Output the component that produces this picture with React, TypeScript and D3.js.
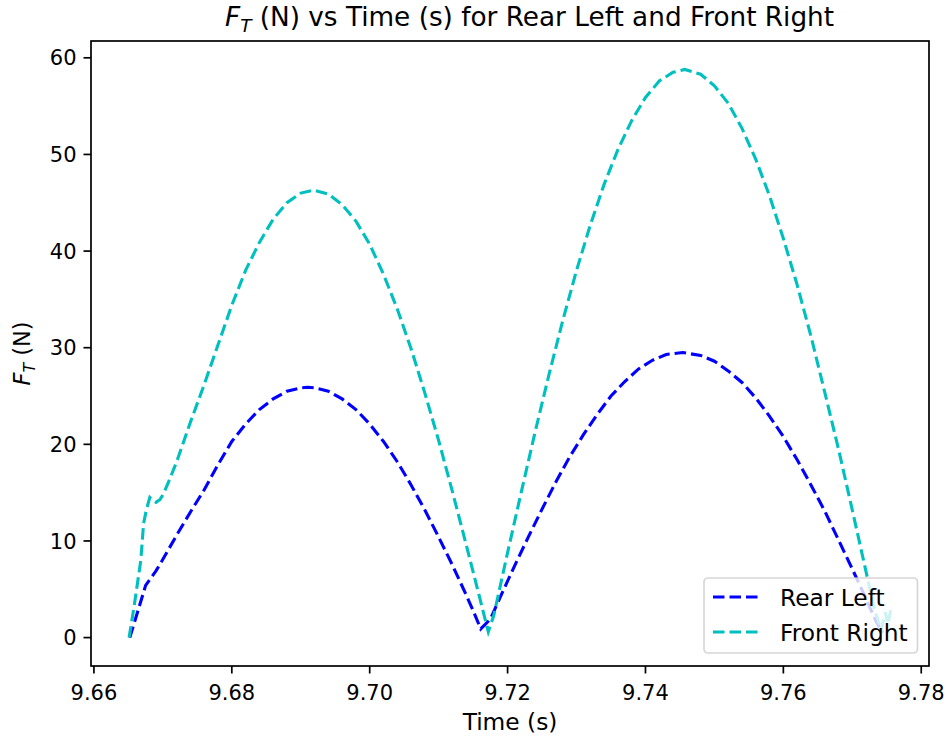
import React from "react";
import * as d3 from "d3";

const tRL = [9.6652, 9.6664, 9.6675, 9.669, 9.67, 9.672, 9.674, 9.676, 9.678, 9.68, 9.682, 9.684, 9.686, 9.688, 9.69, 9.691, 9.692, 9.694, 9.696, 9.698, 9.7, 9.702, 9.704, 9.706, 9.708, 9.71, 9.712, 9.714, 9.715, 9.7161, 9.7175, 9.719, 9.721, 9.723, 9.725, 9.727, 9.729, 9.731, 9.733, 9.735, 9.737, 9.739, 9.741, 9.743, 9.7454, 9.748, 9.75, 9.752, 9.754, 9.756, 9.758, 9.76, 9.762, 9.764, 9.766, 9.768, 9.77, 9.772, 9.7735, 9.7744];
const fRL = [0, 2.8, 5.4, 6.9, 8.1, 10.6, 13.0, 15.3, 17.9, 20.3, 22.1, 23.6, 24.7, 25.5, 25.85, 25.9, 25.85, 25.5, 24.7, 23.6, 22.1, 20.3, 18.2, 15.8, 13.2, 10.4, 7.5, 4.4, 2.8, 0.9, 1.9, 4.3, 7.4, 10.4, 13.3, 16.1, 18.7, 21.0, 23.1, 25.0, 26.5, 27.8, 28.7, 29.3, 29.5, 29.2, 28.6, 27.6, 26.4, 24.8, 22.9, 20.8, 18.4, 15.8, 13.1, 10.1, 7.1, 4.0, 1.6, 0.5];

const tFR = [9.6651, 9.6658, 9.6668, 9.6672, 9.6676, 9.6681, 9.6685, 9.669, 9.6696, 9.6701, 9.671, 9.6721, 9.674, 9.676, 9.678, 9.68, 9.682, 9.684, 9.686, 9.688, 9.69, 9.6919, 9.694, 9.696, 9.698, 9.7, 9.702, 9.704, 9.706, 9.708, 9.71, 9.712, 9.714, 9.716, 9.7172, 9.718, 9.72, 9.722, 9.724, 9.726, 9.728, 9.73, 9.732, 9.734, 9.736, 9.738, 9.74, 9.742, 9.744, 9.7457, 9.748, 9.75, 9.752, 9.754, 9.756, 9.758, 9.76, 9.762, 9.764, 9.766, 9.768, 9.77, 9.772, 9.7732, 9.7742, 9.7748, 9.7752, 9.7756];
const fFR = [0, 3.1, 8.0, 11.8, 13.2, 14.5, 14.2, 14.0, 14.3, 14.9, 16.4, 18.4, 22.3, 26.2, 30.3, 34.4, 38.0, 40.9, 43.3, 45.0, 46.0, 46.3, 45.9, 44.8, 43.1, 40.7, 37.6, 34.0, 29.9, 25.3, 20.4, 15.1, 9.6, 4.0, 0.6, 2.3, 8.8, 15.1, 21.3, 27.2, 32.8, 38.0, 42.7, 46.9, 50.5, 53.5, 55.9, 57.6, 58.5, 58.8, 58.3, 57.1, 55.3, 52.7, 49.5, 45.7, 41.3, 36.5, 31.2, 25.4, 19.5, 13.2, 6.8, 2.9, 0.8, 2.6, 1.4, 3.0];

const xTicks = [9.66, 9.68, 9.7, 9.72, 9.74, 9.76, 9.78];
const yTicks = [0, 10, 20, 30, 40, 50, 60];
const seriesNames = ["Rear Left", "Front Right"];
const seriesColors = ["#0000ff", "#00bfbf"];

const W = 948, H = 742;
const L = 91, R = 929, T = 41, B = 666;
const FONT = "DejaVu Sans, sans-serif";
const FS = 21;
const LFS = 23.3;
const TFS = 26.3;
const DASH = "11.5 5";

export default function App() {
  const allT = tRL.concat(tFR);
  const allF = fRL.concat(fFR);
  const [tmin, tmax] = d3.extent(allT) as [number, number];
  const [fmin, fmax] = d3.extent(allF) as [number, number];
  const xp = (tmax - tmin) * 0.05;
  const yp = (fmax - fmin) * 0.05;
  const x = d3.scaleLinear().domain([tmin - xp, tmax + xp]).range([L, R]);
  const y = d3.scaleLinear().domain([fmin - yp, fmax + yp]).range([B, T]);

  const line = d3.line<[number, number]>().x((d) => x(d[0])).y((d) => y(d[1]));
  const rl = line(tRL.map((t, i) => [t, fRL[i]]) as [number, number][]) || "";
  const fr = line(tFR.map((t, i) => [t, fFR[i]]) as [number, number][]) || "";

  const lx = 704, ly = 578, lw = 213.5, lh = 75;

  return (
    <svg width={W} height={H} style={{ position: "absolute", left: 0, top: 0, background: "#fff" }} fontFamily={FONT}>
      <rect x={0} y={0} width={W} height={H} fill="#fff" />
      <g>
        <path d={rl} fill="none" stroke={seriesColors[0]} strokeWidth={3.1} strokeDasharray={DASH} />
        <path d={fr} fill="none" stroke={seriesColors[1]} strokeWidth={3.1} strokeDasharray={DASH} />
      </g>
      <rect x={L} y={T} width={R - L} height={B - T} fill="none" stroke="#000" strokeWidth={1.7} />
      {xTicks.map((v) => (
        <g key={"x" + v}>
          <line x1={x(v)} x2={x(v)} y1={B} y2={B + 7.5} stroke="#000" strokeWidth={1.7} />
          <text x={x(v)} y={699.5} fontSize={FS} textAnchor="middle" fill="#000">{v.toFixed(2)}</text>
        </g>
      ))}
      {yTicks.map((v) => (
        <g key={"y" + v}>
          <line x1={L - 7.5} x2={L} y1={y(v)} y2={y(v)} stroke="#000" strokeWidth={1.7} />
          <text x={L - 14.5} y={y(v)} dy="0.36em" fontSize={FS} textAnchor="end" fill="#000">{v}</text>
        </g>
      ))}
      <text x={(L + R) / 2} y={730} fontSize={LFS} textAnchor="middle" fill="#000">Time (s)</text>
      <text transform={`translate(30, ${(T + B) / 2}) rotate(-90)`} fontSize={22.5} textAnchor="middle" fill="#000">
        <tspan fontStyle="italic">F</tspan>
        <tspan fontStyle="italic" fontSize={22.5 * 0.7} dy={4.8}>T</tspan>
        <tspan dy={-4.8}> (N)</tspan>
      </text>
      <text x={225} y={26} fontSize={TFS} textAnchor="start" fill="#000">
        <tspan fontStyle="italic">F</tspan>
        <tspan fontStyle="italic" fontSize={TFS * 0.7} dy={5.8}>T</tspan>
        <tspan dy={-5.8}> (N) vs Time (s) for Rear Left and Front Right</tspan>
      </text>
      <rect x={lx} y={ly} width={lw} height={lh} rx={4} ry={4} fill="#fff" fillOpacity={0.8} stroke="#cccccc" strokeOpacity={0.8} strokeWidth={1.7} />
      {seriesNames.map((n, i) => (
        <g key={n}>
          <line x1={713} x2={761} y1={597 + i * 35} y2={597 + i * 35} stroke={seriesColors[i]} strokeWidth={3.1} strokeDasharray={DASH} />
          <text x={780} y={605.5 + i * 35} fontSize={LFS} fill="#000">{n}</text>
        </g>
      ))}
    </svg>
  );
}
